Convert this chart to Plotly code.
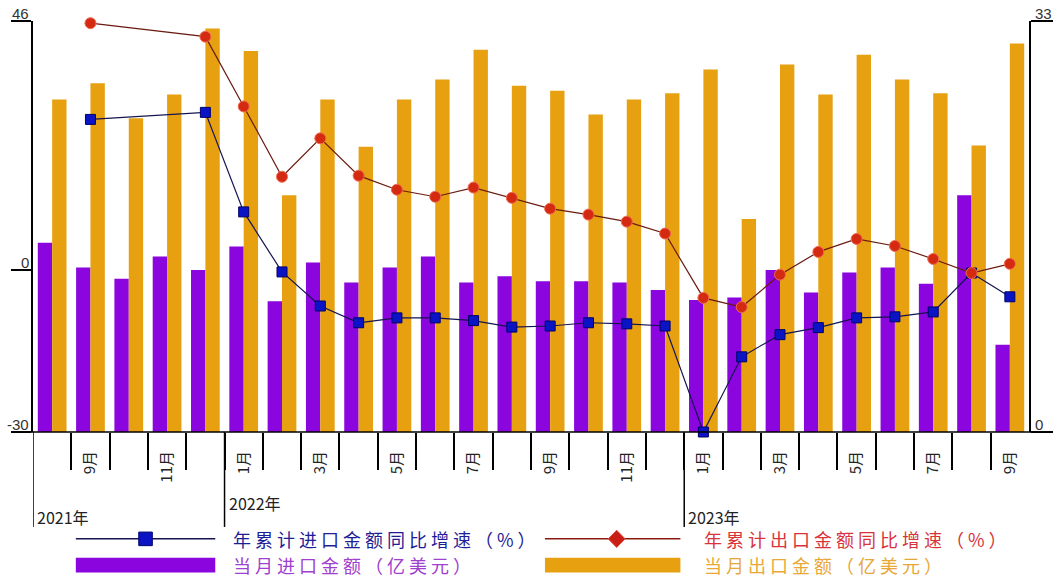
import plotly.graph_objects as go

# ---------------- data ----------------
months = ["2021-08", "2021-09", "2021-10", "2021-11", "2021-12",
          "2022-01", "2022-02", "2022-03", "2022-04", "2022-05", "2022-06",
          "2022-07", "2022-08", "2022-09", "2022-10", "2022-11", "2022-12",
          "2023-01", "2023-02", "2023-03", "2023-04", "2023-05", "2023-06",
          "2023-07", "2023-08", "2023-09"]

import_monthly = [15.2, 13.2, 12.3, 14.1, 13.0,
                  14.9, 10.5, 13.6, 12.0, 13.2, 14.1,
                  12.0, 12.5, 12.1, 12.1, 12.0, 11.4,
                  10.6, 10.8, 13.0, 11.2, 12.8, 13.2,
                  11.9, 19.0, 7.0]

export_monthly = [26.7, 28.0, 25.2, 27.1, 32.4,
                  30.6, 19.0, 26.7, 22.9, 26.7, 28.3,
                  30.7, 27.8, 27.4, 25.5, 26.7, 27.2,
                  29.1, 17.1, 29.5, 27.1, 30.3, 28.3,
                  27.2, 23.0, 31.2]

import_cum_growth = [None, 27.8, None, None, 29.1,
                     10.7, -0.4, -6.7, -9.8, -8.9, -8.9,
                     -9.4, -10.6, -10.4, -9.8, -10.0, -10.4,
                     -30.0, -16.1, -12.0, -10.7, -8.9, -8.7,
                     -7.8, -0.6, -5.0]

export_cum_growth = [None, 45.6, None, None, 43.1,
                     30.2, 17.2, 24.3, 17.4, 14.8, 13.5,
                     15.2, 13.3, 11.3, 10.2, 8.9, 6.7,
                     -5.2, -6.9, -0.9, 3.3, 5.7, 4.4,
                     2.0, -0.6, 1.1]

tick_labels = ["9月", "11月", "1月", "3月", "5月", "7月", "9月",
               "11月", "1月", "3月", "5月", "7月", "9月"]
year_labels = ["2021年", "2022年", "2023年"]
left_ticks = [46, 0, -30]
right_ticks = [33, 0]

series_names = ["年累计进口金额同比增速（%）", "年累计出口金额同比增速（%）",
                "当月进口金额（亿美元）", "当月出口金额（亿美元）"]

# ---------------- styles ----------------
C_ORANGE = "#E6A010"
C_PURPLE = "#8A05DE"
C_BLUE = "#0A14C4"
C_RED = "#D42A12"
CJK = "Noto Sans CJK SC"
NUM = "Liberation Sans, Arial, sans-serif"

x = list(range(len(months)))
label_pos = [i for i in x if int(months[i][5:]) % 2 == 1]
boundaries = [i + 0.5 for i in x[:-1]]
year_pos = [-0.5] + [i - 0.5 for i in x if months[i].endswith("-01")]

fig = go.Figure()

# bars on the primary axis (right side, 0..33); lines on the overlaying axis (left, -30..46)
fig.add_trace(go.Bar(x=x, y=import_monthly, name=series_names[2], yaxis="y",
                     marker=dict(color=C_PURPLE, line=dict(width=0)),
                     showlegend=False))
fig.add_trace(go.Bar(x=x, y=export_monthly, name=series_names[3], yaxis="y",
                     marker=dict(color=C_ORANGE, line=dict(width=0)),
                     showlegend=False))
fig.add_trace(go.Scatter(x=x, y=import_cum_growth, name=series_names[0], yaxis="y2",
                         mode="lines+markers", connectgaps=True, cliponaxis=False,
                         line=dict(color="#141450", width=1.2),
                         marker=dict(symbol="square", size=10, color=C_BLUE,
                                     line=dict(color="#00006a", width=1)),
                         showlegend=False))
fig.add_trace(go.Scatter(x=x, y=export_cum_growth, name=series_names[1], yaxis="y2",
                         mode="lines+markers", connectgaps=True, cliponaxis=False,
                         line=dict(color="#6a1a10", width=1.2),
                         marker=dict(symbol="circle", size=11, color=C_RED,
                                     line=dict(color="#f06a50", width=1)),
                         showlegend=False))

shapes = []
annotations = []

# year separator lines below the axis
for xp in year_pos:
    shapes.append(dict(type="line", xref="x", yref="paper", x0=xp, x1=xp,
                       y0=0, y1=-0.231, line=dict(color="black", width=1.5)))
# extended x-axis baseline
shapes.append(dict(type="line", xref="paper", yref="paper", x0=-0.013, x1=1.023,
                   y0=0, y1=0, line=dict(color="black", width=1.5)))

# year labels
year_y = [-0.207, -0.173, -0.207]
for xp, txt, yy in zip(year_pos, year_labels, year_y):
    annotations.append(dict(x=xp, y=yy, xref="x", yref="paper", text=txt,
                            showarrow=False, xanchor="left", yanchor="middle",
                            xshift=2, font=dict(family=CJK, size=16, color="#222222")))

# y-axis labels sitting on top of their tick lines
for v in left_ticks:
    annotations.append(dict(x=0, y=v, xref="paper", yref="y2", text=str(v),
                            showarrow=False, xanchor="right", yanchor="bottom",
                            xshift=-2, yshift=-3,
                            font=dict(family=NUM, size=15, color="#333333")))
for v in right_ticks:
    annotations.append(dict(x=1, y=v, xref="paper", yref="y", text=str(v),
                            showarrow=False, xanchor="left", yanchor="bottom",
                            xshift=4, yshift=-3,
                            font=dict(family=NUM, size=15, color="#333333")))

# ---------------- legend (drawn) ----------------
row1, row2 = -0.260, -0.324
lx = [(0.043, 0.183), (0.514, 0.650)]
tx = [0.199, 0.672]
shapes.append(dict(type="line", xref="paper", yref="paper", x0=lx[0][0], x1=lx[0][1],
                   y0=row1, y1=row1, line=dict(color="#141450", width=1.5)))
shapes.append(dict(type="line", xref="paper", yref="paper", x0=lx[1][0], x1=lx[1][1],
                   y0=row1, y1=row1, line=dict(color="#8a1a10", width=1.5)))
shapes.append(dict(type="rect", xref="paper", yref="paper", x0=lx[0][0], x1=lx[0][1],
                   y0=row2 - 0.018, y1=row2 + 0.018, line=dict(width=0),
                   fillcolor=C_PURPLE))
shapes.append(dict(type="rect", xref="paper", yref="paper", x0=lx[1][0], x1=lx[1][1],
                   y0=row2 - 0.018, y1=row2 + 0.018, line=dict(width=0),
                   fillcolor=C_ORANGE))
# legend marker samples
cx1 = (lx[0][0] + lx[0][1]) / 2
cx2 = (lx[1][0] + lx[1][1]) / 2 + 0.004
shapes.append(dict(type="rect", xref="paper", yref="paper",
                   x0=cx1 - 0.0068, x1=cx1 + 0.0068, y0=row1 - 0.0165, y1=row1 + 0.0165,
                   fillcolor=C_BLUE, line=dict(color="#00006a", width=1)))
dx, dy = 0.0085, 0.021
shapes.append(dict(type="path", xref="paper", yref="paper",
                   path=f"M {cx2 - dx},{row1} L {cx2},{row1 + dy} L {cx2 + dx},{row1} L {cx2},{row1 - dy} Z",
                   fillcolor="#C81E14", line=dict(color="#e05040", width=1)))

legend_colors = ["#1e1e96", "#D8333A", "#A040D0", "#E8A838"]
legend_pos = [(tx[0], row1), (tx[1], row1), (tx[0], row2), (tx[1], row2)]
for (px, py), txt, col in zip(legend_pos, series_names, legend_colors):
    annotations.append(dict(x=px, y=py, xref="paper", yref="paper",
                            text=f'<span style="letter-spacing:4px">{txt}</span>',
                            showarrow=False, xanchor="left", yanchor="middle",
                            font=dict(family=CJK, size=18, color=col)))

fig.update_layout(
    width=1063, height=579, autosize=False,
    margin=dict(l=33, r=29, t=21, b=147),
    paper_bgcolor="white", plot_bgcolor="white",
    barmode="group", bargap=0.25, bargroupgap=0,
    showlegend=False,
    shapes=shapes, annotations=annotations,
    xaxis=dict(range=[-0.5, len(months) - 0.5], tickmode="array",
               tickvals=label_pos, ticktext=tick_labels, tickangle=-90,
               ticks="", ticklabelstandoff=15, showgrid=False, zeroline=False,
               showline=False,
               tickfont=dict(family=CJK, size=15, color="#222222"),
               minor=dict(tickmode="array", tickvals=boundaries, ticks="outside",
                          ticklen=37, tickwidth=1.5, tickcolor="black",
                          showgrid=False)),
    yaxis=dict(range=[0, 33], side="right", tickmode="array",
               tickvals=right_ticks, showticklabels=False, ticks="outside",
               ticklen=22, tickwidth=1.5, tickcolor="black", showline=True,
               linecolor="black", linewidth=1.5, showgrid=False, zeroline=False),
    yaxis2=dict(range=[-30, 46], overlaying="y", side="left", tickmode="array",
                tickvals=left_ticks, showticklabels=False, ticks="outside",
                ticklen=20, tickwidth=1.5, tickcolor="black", showline=True,
                linecolor="black", linewidth=1.5, showgrid=False, zeroline=False),
)

fig.write_html("out.html", config={"displayModeBar": False},
               post_script="document.body.style.margin='0';")
